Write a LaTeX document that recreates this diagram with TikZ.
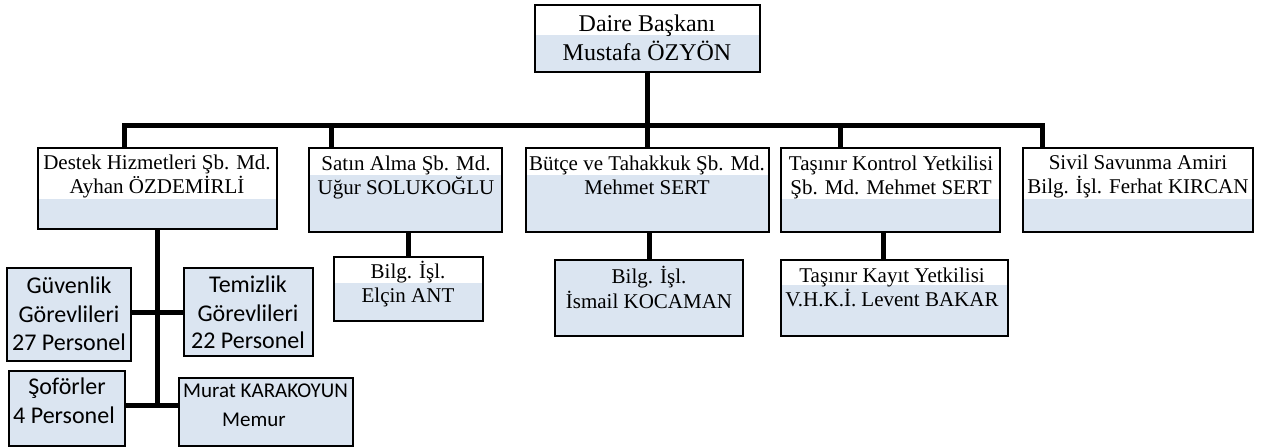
\documentclass[tikz,border=0pt]{standalone}
\usepackage{fontspec}
\setmainfont{Liberation Serif}
\newfontfamily\calibrifont{Carlito}
\definecolor{bandblue}{RGB}{219,229,241}
\begin{document}
\begin{tikzpicture}[x=1pt,y=-1pt,
 box/.style={draw=black, line width=1.5pt, inner sep=0pt, outer sep=0pt, anchor=north west},
 band/.style={path picture={\fill[bandblue] (path picture bounding box.south west) rectangle ([yshift=#1pt]path picture bounding box.south east);}},
 fullblue/.style={fill=bandblue},
 conn/.style={line width=5pt, line join=miter},
 tser/.style={font=\fontsize{21}{24}\selectfont, inner sep=0pt, anchor=base},
 tbig/.style={font=\fontsize{24}{28}\selectfont, inner sep=0pt, anchor=base},
 tcal/.style={font=\calibrifont\fontsize{24}{28}\selectfont, inner sep=0pt, anchor=base},
 tcals/.style={font=\calibrifont\fontsize{21}{25}\selectfont, inner sep=0pt, anchor=base west},
]
\useasboundingbox (0,0) rectangle (1266,447);

% boxes
\node[box, band=37, minimum width=225pt, minimum height=67pt] (daire) at (535,5) {};
\node[box, band=30, minimum width=239pt, minimum height=81pt] (destek) at (38,148) {};
\node[box, band=57, minimum width=193pt, minimum height=84pt] (satin) at (309,148) {};
\node[box, band=57, minimum width=243pt, minimum height=84pt] (butce) at (526,148) {};
\node[box, band=33, minimum width=219pt, minimum height=84pt] (tkontrol) at (781,148) {};
\node[box, band=33, minimum width=230pt, minimum height=84pt] (sivil) at (1023,148) {};
\node[box, band=38, minimum width=149pt, minimum height=64pt] (elcin) at (334,257) {};
\node[box, fullblue, minimum width=188pt, minimum height=76pt] (ismail) at (555,260) {};
\node[box, band=51, minimum width=227pt, minimum height=76pt] (tkayit) at (781,260) {};
\node[box, fullblue, minimum width=124pt, minimum height=93pt] (guv) at (7,268) {};
\node[box, fullblue, minimum width=129pt, minimum height=88pt] (tem) at (184,268) {};
\node[box, fullblue, minimum width=116pt, minimum height=75pt] (sof) at (9,371) {};
\node[box, fullblue, minimum width=174pt, minimum height=68pt] (murat) at (179,378) {};

% connector coordinates
\coordinate (busL) at (124,125);
\coordinate (busR) at (1042,125);
\coordinate (dSatin) at (331,125);
\coordinate (dTk) at (840,125);
\coordinate (dTkayit) at (883,300);
\coordinate (hU) at (157,312);
\coordinate (vL) at (157,405);

% connectors
\draw[conn] (daire.south) -- (daire.south |- busL);
\draw[conn] (destek.north -| busL) -- (busL) -- (busR) -- (busR |- sivil.north);
\draw[conn] (dSatin) -- (dSatin |- satin.north);
\draw[conn] (butce.north |- busL) -- (butce.north);
\draw[conn] (dTk) -- (dTk |- tkontrol.north);
\draw[conn] (satin.south -| elcin.north) -- (elcin.north);
\draw[conn] (butce.south -| ismail.north) -- (ismail.north);
\draw[conn] (tkontrol.south -| dTkayit) -- (tkayit.north -| dTkayit);
\draw[conn] (destek.south -| vL) -- (vL);
\draw[conn] (guv.east |- hU) -- (tem.west |- hU);
\draw[conn] (sof.east |- vL) -- (murat.west |- vL);

% texts
\node[tbig] (daireA) at (647,31) {Daire Başkanı};
\node[tbig] (daireB) at (647,60) {Mustafa ÖZYÖN};
\node[tser] (destekA) at (157,169) {Destek Hizmetleri Şb. Md.};
\node[tser] (destekB) at (157,193) {Ayhan ÖZDEMİRLİ};
\node[tser] (satinA) at (406,170) {Satın Alma Şb. Md.};
\node[tser] (satinB) at (406,194) {Uğur SOLUKOĞLU};
\node[tser] (butceA) at (647,170) {Bütçe ve Tahakkuk Şb. Md.};
\node[tser] (butceB) at (647,194) {Mehmet SERT};
\node[tser] (tkontrolA) at (891,170) {Taşınır Kontrol Yetkilisi};
\node[tser] (tkontrolB) at (891,194) {Şb. Md. Mehmet SERT};
\node[tser] (sivilA) at (1138,169) {Sivil Savunma Amiri};
\node[tser] (sivilB) at (1138,193) {Bilg. İşl. Ferhat KIRCAN};
\node[tser] (elcinA) at (408,278) {Bilg. İşl.};
\node[tser] (elcinB) at (408,302) {Elçin ANT};
\node[tser] (ismailA) at (649,283) {Bilg. İşl.};
\node[tser] (ismailB) at (649,308) {İsmail KOCAMAN};
\node[tser] (tkayitA) at (892,282) {Taşınır Kayıt Yetkilisi};
\node[tser] (tkayitB) at (892,306) {V.H.K.İ. Levent BAKAR};
\node[tcal] (guvA) at (69,293) {Güvenlik};
\node[tcal] (guvB) at (69,322) {Görevlileri};
\node[tcal] (guvC) at (69,350) {27 Personel};
\node[tcal] (temA) at (248,292) {Temizlik};
\node[tcal] (temB) at (248,321) {Görevlileri};
\node[tcal] (temC) at (248,348) {22 Personel};
\node[tcal] (sofA) at (67,394) {Şoförler};
\node[tcal] (sofB) at (64,423) {4 Personel};
\node[tcals] (muratA) at (183,397) {Murat KARAKOYUN};
\node[tcals] (muratB) at (222,426) {Memur};
\end{tikzpicture}
\end{document}
